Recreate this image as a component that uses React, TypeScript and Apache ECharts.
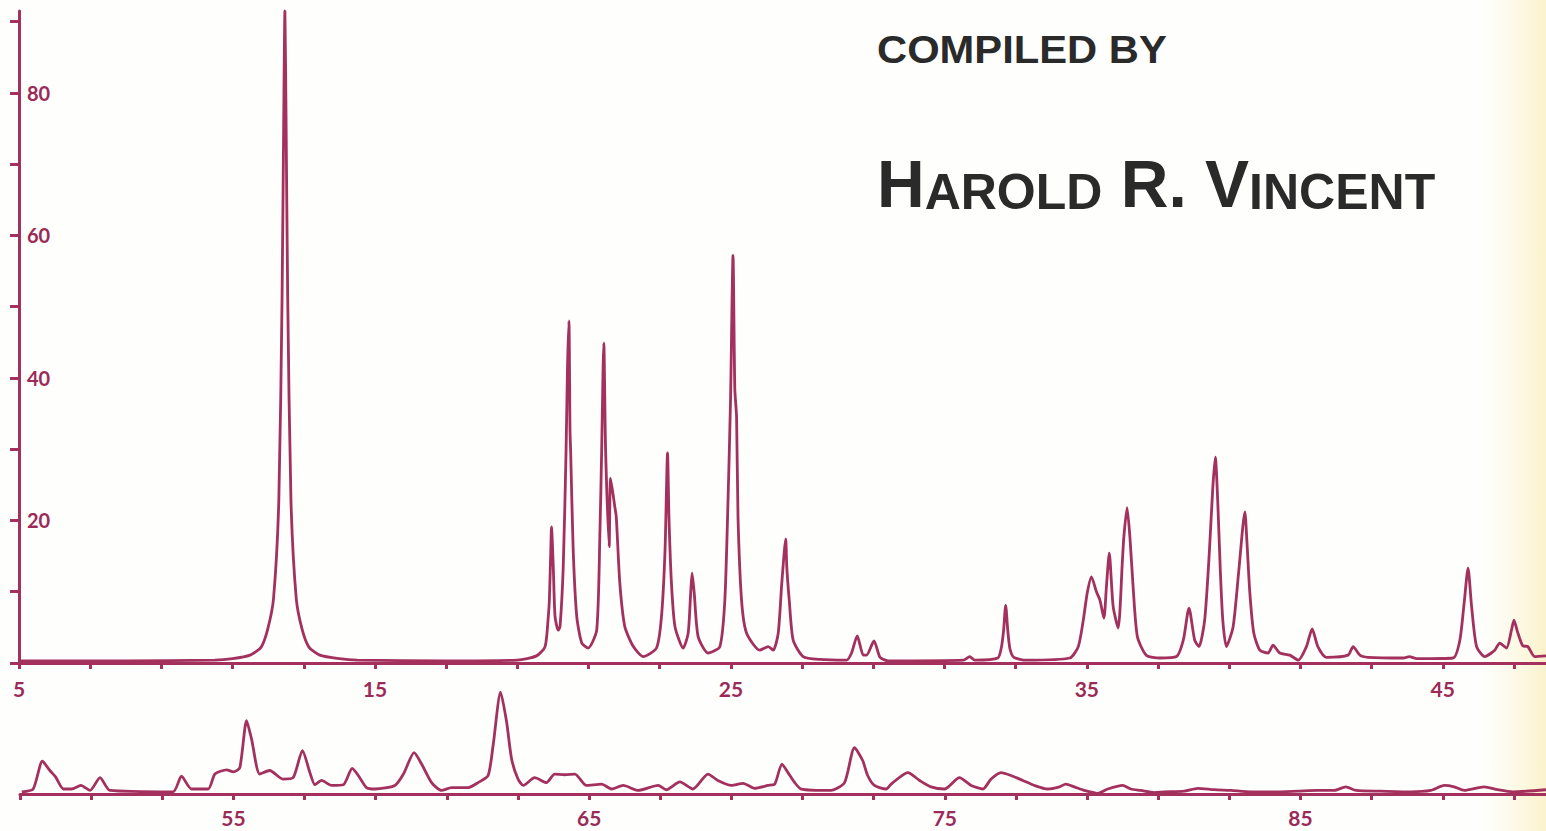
import React, { useEffect, useRef } from "react";
import * as echarts from "echarts";

// ---- data (2θ, relative intensity) ----
const topScan: [number, number][] = [
  [5, 0.3], [8, 0.3], [10.5, 0.4], [11.0, 0.6], [11.49, 1.1], [11.8, 2.2], [11.98, 4.6], [12.15, 9],
  [12.3, 22.9], [12.39, 50.9], [12.44, 78], [12.47, 91.5], [12.5, 78], [12.55, 50.9], [12.64, 22.9],
  [12.79, 9], [12.96, 4.6], [13.15, 2.2], [13.45, 1.1], [14.0, 0.6], [14.5, 0.4], [17, 0.3], [19.0, 0.4],
  [19.54, 1.0], [19.78, 2.3], [19.87, 6.5], [19.9, 8.8], [19.94, 15.8], [19.96, 19.1], [20.01, 13.5],
  [20.06, 6.5], [20.15, 4.6], [20.2, 5.1], [20.29, 13.5], [20.37, 29.9], [20.41, 41.6], [20.45, 48],
  [20.48, 32.7], [20.5, 29.4], [20.57, 15.8], [20.67, 6.5], [20.81, 2.8], [20.99, 2.1], [21.23, 4.6],
  [21.32, 18.2], [21.37, 29.9], [21.41, 41.6], [21.43, 44.9], [21.48, 29.9], [21.58, 16.3], [21.62, 25.9],
  [21.74, 21.9], [21.78, 20.5], [21.88, 11.2], [22.02, 5.1], [22.26, 2.3], [22.54, 0.9], [22.91, 2.1],
  [23.05, 6.5], [23.15, 15.8], [23.22, 29.5], [23.26, 20.5], [23.33, 11.2], [23.43, 5.1], [23.66, 2.1],
  [23.8, 4.2], [23.87, 9.8], [23.91, 12.6], [23.97, 9.8], [24.08, 3.7], [24.36, 1.4], [24.69, 2.3],
  [24.83, 8.8], [24.92, 22.9], [24.99, 36.9], [25.06, 57.2], [25.11, 38.5], [25.16, 34.5], [25.2, 20.5],
  [25.3, 8.8], [25.44, 4.2], [25.81, 1.8], [26.05, 2.3], [26.19, 1.8], [26.33, 4.2], [26.43, 11.2],
  [26.54, 17.4], [26.57, 13.5], [26.64, 8.8], [26.75, 3.2], [27.03, 0.9], [27.5, 0.5], [28.25, 0.4],
  [28.39, 1.4], [28.55, 3.8], [28.72, 1.1], [28.81, 1.1], [29.02, 3.1], [29.19, 0.8], [29.42, 0.3],
  [31.53, 0.4], [31.71, 0.9], [31.85, 0.4], [32.5, 0.7], [32.6, 2.2], [32.66, 4.5], [32.72, 8.1],
  [32.78, 4.5], [32.84, 2.0], [32.95, 0.8], [33.3, 0.4], [34.52, 0.7], [34.76, 2.3], [34.9, 6.0],
  [35.01, 9.8], [35.13, 12.1], [35.27, 10.0], [35.37, 8.8], [35.48, 6.3], [35.55, 10.7], [35.63, 15.4],
  [35.74, 7.9], [35.88, 4.9], [36.0, 14.4], [36.04, 17.7], [36.13, 21.8], [36.21, 17.7], [36.3, 10.7],
  [36.42, 3.7], [36.67, 1.1], [37.05, 0.7], [37.52, 0.9], [37.71, 3.2], [37.87, 7.7], [38.03, 3.2],
  [38.15, 2.3], [38.31, 6.0], [38.44, 15.4], [38.54, 24.7], [38.61, 28.9], [38.68, 22.4], [38.75, 13.0],
  [38.82, 6.0], [38.92, 2.3], [39.11, 5.1], [39.27, 13.0], [39.44, 21.2], [39.5, 16.8], [39.58, 9.8],
  [39.69, 4.2], [39.86, 1.8], [40.09, 1.4], [40.23, 2.5], [40.42, 1.4], [40.7, 1.1], [40.94, 0.4],
  [41.17, 2.3], [41.33, 4.8], [41.49, 2.3], [41.73, 0.8], [42.34, 1.1], [42.48, 2.3], [42.67, 1.1],
  [42.9, 0.8], [43.89, 0.7], [44.06, 0.9], [44.27, 0.6], [45.29, 0.7], [45.48, 3.2], [45.6, 8.4],
  [45.71, 13.3], [45.81, 7.9], [45.95, 2.3], [46.18, 0.9], [46.46, 1.8], [46.6, 2.8], [46.79, 2.1],
  [46.93, 4.6], [47.0, 6.0], [47.11, 4.2], [47.25, 2.4], [47.39, 2.3], [47.58, 0.9], [47.9, 1.0],
];

const bottomScan: [number, number][] = [
  [49.05, 0.3], [49.37, 0.7], [49.63, 4.6], [49.84, 3.3], [50.0, 2.4], [50.22, 0.7], [50.45, 0.7],
  [50.71, 1.2], [50.97, 0.5], [51.25, 2.3], [51.53, 0.5], [53.3, 0.3], [53.54, 2.5], [53.82, 0.7],
  [54.29, 0.7], [54.48, 2.8], [54.81, 3.4], [55.0, 3.1], [55.18, 3.7], [55.37, 10.3], [55.51, 7.7],
  [55.74, 2.8], [56.02, 3.3], [56.39, 2.1], [56.68, 2.3], [56.94, 6.1], [57.15, 3.0], [57.29, 1.3],
  [57.48, 1.9], [57.76, 1.2], [58.09, 1.3], [58.34, 3.6], [58.51, 2.6], [58.74, 0.9], [58.98, 0.7],
  [59.54, 1.2], [59.78, 2.8], [60.08, 5.8], [60.29, 4.2], [60.57, 1.6], [60.85, 0.5], [61.13, 0.9],
  [61.6, 0.9], [61.88, 1.6], [62.16, 2.6], [62.3, 6.8], [62.51, 14.3], [62.68, 10.1], [62.82, 4.9],
  [63.0, 2.1], [63.15, 1.2], [63.47, 2.3], [63.8, 1.6], [64.03, 2.8], [64.31, 2.7], [64.6, 2.8],
  [64.92, 1.2], [65.35, 1.4], [65.63, 0.7], [65.96, 1.2], [66.38, 0.5], [66.94, 1.2], [67.17, 0.6],
  [67.55, 1.7], [67.92, 0.7], [68.34, 2.8], [68.62, 1.9], [69.0, 1.2], [69.33, 1.5], [69.65, 0.8],
  [70.03, 1.2], [70.22, 1.4], [70.42, 4.2], [70.59, 3.0], [70.78, 1.6], [70.96, 0.7], [71.8, 0.5],
  [72.18, 1.6], [72.46, 6.5], [72.69, 4.7], [72.83, 2.6], [73.02, 1.2], [73.35, 0.7], [73.49, 1.4],
  [73.96, 3.0], [74.29, 1.9], [74.61, 1.0], [74.99, 0.7], [75.41, 2.3], [75.74, 1.2], [76.07, 0.7],
  [76.3, 2.1], [76.58, 3.0], [76.86, 2.6], [77.19, 1.9], [77.52, 1.2], [77.89, 0.7], [78.22, 1.0],
  [78.4, 1.4], [78.64, 1.0], [78.92, 0.5], [79.3, 0.1], [79.58, 0.7], [80.0, 1.2], [80.23, 0.7],
  [80.51, 0.5], [80.89, 0.2], [81.17, 0.3], [81.73, 0.4], [82.11, 0.8], [82.57, 0.6], [83.04, 0.5],
  [83.6, 0.3], [84.26, 0.3], [84.92, 0.4], [85.48, 0.5], [85.95, 0.5], [86.27, 1.0], [86.56, 0.5],
  [87.26, 0.4], [88.1, 0.3], [88.66, 0.5], [89.04, 1.2], [89.32, 1.0], [89.6, 0.5], [90.16, 1.0],
  [90.54, 0.6], [90.96, 0.3], [91.9, 0.6],
];

const topTicks = [5, 7, 9, 11, 13, 15, 17, 19, 21, 23, 25, 27, 29, 31, 33, 35, 37, 39, 41, 43, 45, 47];
const topLabels = [5, 15, 25, 35, 45];
const bottomTicks = [49, 51, 53, 55, 57, 59, 61, 63, 65, 67, 69, 71, 73, 75, 77, 79, 81, 83, 85, 87, 89, 91];
const bottomLabels = [55, 65, 75, 85];
const yTicks = [0, 10, 20, 30, 40, 50, 60, 70, 80, 90];
const yLabels = [20, 40, 60, 80];

const compiledBy = "COMPILED BY";
const authorRich = "{b|H}{s|AROLD}{b| R. V}{s|INCENT}";

const LINE = "#a3305d";
const LABEL = "#9c2a58";
const labelFont = { color: LABEL, fontFamily: "Lato, 'Open Sans', sans-serif", fontWeight: "bold" as const, fontSize: 21 };

export default function App() {
  const ref = useRef<HTMLDivElement>(null);
  useEffect(() => {
    if (!ref.current) return;
    const chart = echarts.init(ref.current, null, { renderer: "svg" });
    const axisLine = { show: true, lineStyle: { color: LINE, width: 3 } };
    const lineSeries = { type: "line", showSymbol: false, clip: false, smooth: 0.22, lineStyle: { color: LINE, width: 2.8 }, z: 3 };
    chart.setOption({
      animation: false,
      backgroundColor: "#fefefc",
      grid: [
        { left: 19, right: 0, top: 11, bottom: 168 },
        { left: 20, right: 0, top: 680, bottom: 37 },
      ],
      xAxis: [
        {
          type: "value", gridIndex: 0, min: 5, max: 47.9,
          axisLine,
          axisTick: { show: true, customValues: topTicks, length: 6, lineStyle: { color: LINE, width: 3 } },
          axisLabel: { ...labelFont, customValues: topLabels, margin: 15 },
          splitLine: { show: false },
        },
        {
          type: "value", gridIndex: 1, min: 49, max: 91.9,
          axisLine,
          axisTick: { show: true, customValues: bottomTicks, length: 6, lineStyle: { color: LINE, width: 3 } },
          axisLabel: { ...labelFont, customValues: bottomLabels, margin: 13 },
          splitLine: { show: false },
        },
      ],
      yAxis: [
        {
          type: "value", gridIndex: 0, min: 0, max: 91.5,
          axisLine,
          axisTick: { show: true, customValues: yTicks, length: 9, lineStyle: { color: LINE, width: 3 } },
          axisLabel: { ...labelFont, fontSize: 20, customValues: yLabels, inside: true, margin: 8 },
          splitLine: { show: false },
        },
        { type: "value", gridIndex: 1, min: 0, max: 16, show: false, splitLine: { show: false } },
      ],
      graphic: [
        {
          type: "rect", z: -10, silent: true,
          shape: { x: 1480, y: 0, width: 66, height: 831 },
          style: {
            fill: new echarts.graphic.LinearGradient(0, 0, 1, 0, [
              { offset: 0, color: "rgba(252,246,215,0)" },
              { offset: 1, color: "rgba(250,238,185,0.75)" },
            ]),
          },
        },
        {
          type: "text", x: 877, y: 30, scaleX: 1.07,
          style: {
            text: compiledBy, fill: "#2a2a2a", verticalAlign: "top",
            font: "bold 39px 'Liberation Sans', Arial, sans-serif",
          },
        },
        {
          type: "text", x: 877, y: 151,
          style: {
            text: authorRich, fill: "#2a2a2a", verticalAlign: "top",
            font: "bold 66px 'Liberation Sans', Arial, sans-serif",
            rich: {
              b: { fontSize: 66, fontWeight: "bold", fontFamily: "'Liberation Sans', Arial, sans-serif", fill: "#2a2a2a", verticalAlign: "bottom" },
              s: { fontSize: 50, fontWeight: "bold", fontFamily: "'Liberation Sans', Arial, sans-serif", fill: "#2a2a2a", verticalAlign: "bottom" },
            },
          },
        },
      ],
      series: [
        { ...lineSeries, xAxisIndex: 0, yAxisIndex: 0, data: topScan },
        { ...lineSeries, xAxisIndex: 1, yAxisIndex: 1, data: bottomScan },
      ],
    });
    return () => chart.dispose();
  }, []);
  return <div ref={ref} style={{ position: "fixed", left: 0, top: 0, width: 1546, height: 831 }} />;
}
